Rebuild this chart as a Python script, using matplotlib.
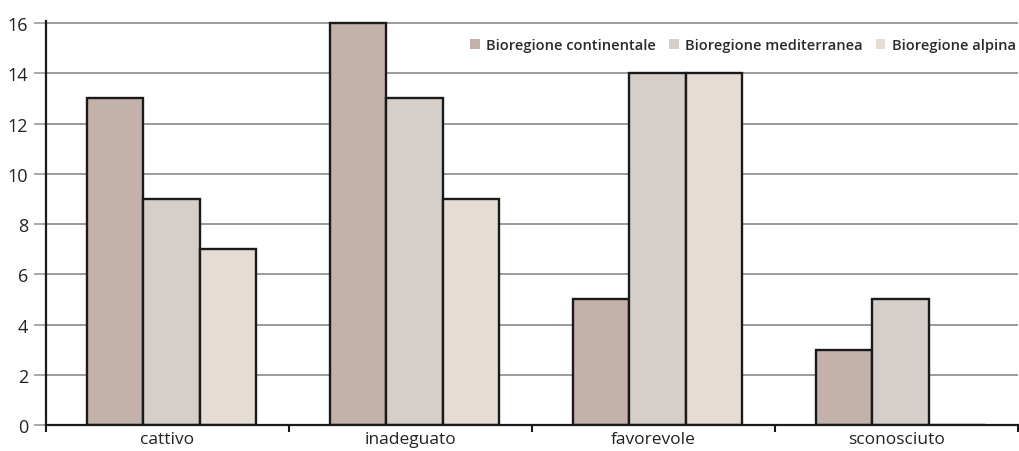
import matplotlib
matplotlib.use("Agg")
import matplotlib.pyplot as plt
import numpy as np

categories = ["cattivo", "inadeguato", "favorevole", "sconosciuto"]
series_names = ["Bioregione continentale", "Bioregione mediterranea", "Bioregione alpina"]
continentale = [13, 16, 5, 3]
mediterranea = [9, 13, 14, 5]
alpina = [7, 9, 14, 0]
yticks = [0, 2, 4, 6, 8, 10, 12, 14, 16]

colors = ["#c4b1aa", "#d6cec9", "#e5dcd4"]
plt.rcParams["font.family"] = ["Open Sans", "DejaVu Sans"]

fig = plt.figure(figsize=(10.2, 4.52), dpi=100)
ax = fig.add_axes([46 / 1020, 26 / 452, 972 / 1020, 404 / 452])

x = np.arange(len(categories))
width = 0.232
offsets = [-0.215, 0.017, 0.249]
for vals, name, col, off in zip([continentale, mediterranea, alpina], series_names, colors, offsets):
    ax.bar(x + off, vals, width=width, color=col, edgecolor="#1a1a1a",
           linewidth=1.7, label=name, zorder=3)

ax.set_xlim(-0.5, len(categories) - 0.5)
ax.set_ylim(0, 16.08)
ax.set_yticks(yticks)
ax.set_yticklabels([str(v) for v in yticks], fontsize=13, color="#222222")
ax.yaxis.grid(True, color="#9a9a9a", linewidth=1.4, zorder=0)
ax.tick_params(axis="y", length=9, width=1.2, color="#9a9a9a", pad=4)

ax.set_xticks(np.arange(-0.5, len(categories)), labels=[""] * (len(categories) + 1))
ax.tick_params(axis="x", which="major", length=5, width=1.5, color="#1a1a1a", direction="out")
ax.set_xticks(x, minor=True)
ax.set_xticklabels(categories, minor=True, fontsize=12.5, color="#222222")
ax.tick_params(axis="x", which="minor", length=0, pad=4)

for side in ("top", "right"):
    ax.spines[side].set_visible(False)
for side in ("left", "bottom"):
    ax.spines[side].set_color("#1a1a1a")
    ax.spines[side].set_linewidth(1.6)
ax.spines["bottom"].set_zorder(4)

leg = ax.legend(loc="upper right", bbox_to_anchor=(1.004, 0.972), ncol=3, frameon=False,
                prop={"size": 10.5, "weight": "semibold"}, handlelength=0.65,
                handleheight=0.65, handletextpad=0.45, columnspacing=0.9, borderaxespad=0)
for h in leg.legend_handles:
    h.set_edgecolor("none")
for t in leg.get_texts():
    t.set_color("#2a2a2a")

fig.savefig("out.png", dpi=100)
